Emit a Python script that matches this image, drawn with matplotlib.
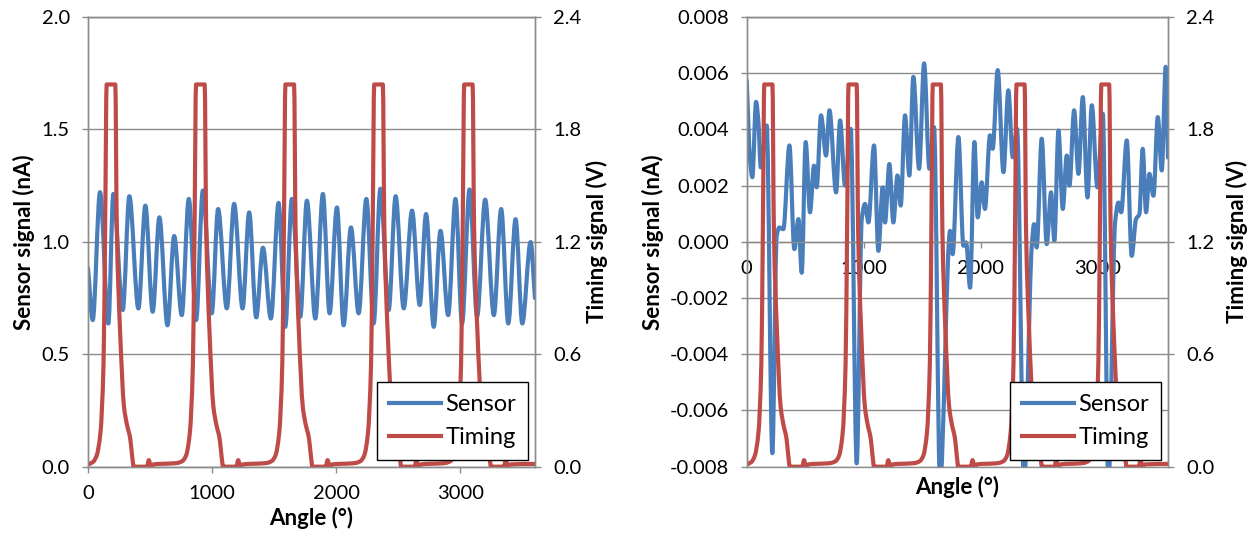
"""Sensor and timing signals vs rotation angle, two panels."""

import numpy as np
import matplotlib
matplotlib.use('Agg')
import matplotlib.pyplot as plt
from matplotlib.ticker import FormatStrFormatter
from matplotlib.path import Path
from matplotlib.patches import PathPatch
from matplotlib.lines import Line2D

plt.rcParams['font.family'] = ['Lato', 'DejaVu Sans']
plt.rcParams['axes.unicode_minus'] = False

BLUE = '#4a7ebb'
RED = '#be4b48'
GRID = '#8c8c8c'

# --- left panel sensor signal (nA) (peaks/troughs) ---
left_angle = [0, 38, 97, 164, 204, 280, 333, 406, 462, 521, 575, 640, 694, 755,
              812, 871, 925, 997, 1048, 1118, 1177, 1245, 1298, 1355, 1409, 1473,
              1535, 1589, 1642, 1710, 1763, 1831, 1892, 1946, 2005, 2059, 2118,
              2180, 2242, 2301, 2355, 2422, 2478, 2543, 2610, 2672, 2723, 2785,
              2839, 2901, 2960, 3013, 3073, 3134, 3199, 3269, 3328, 3385, 3444,
              3498, 3565, 3600]
left_sensor = [0.884, 0.652, 1.221, 0.637, 1.213, 0.697, 1.203, 0.704, 1.161, 0.689,
               1.109, 0.629, 1.026, 0.674, 1.191, 0.652, 1.228, 0.682, 1.146, 0.704,
               1.169, 0.704, 1.131, 0.664, 0.974, 0.659, 1.173, 0.622, 1.191, 0.667,
               1.183, 0.659, 1.213, 0.682, 1.153, 0.629, 1.064, 0.682, 1.191, 0.637,
               1.236, 0.697, 1.203, 0.704, 1.139, 0.719, 1.124, 0.622, 1.049, 0.674,
               1.191, 0.637, 1.233, 0.667, 1.188, 0.674, 1.146, 0.637, 1.101, 0.637,
               0.999, 0.75]

# --- right panel sensor signal (nA) ---
right_angle = [0, 28, 48, 80, 100, 120, 171, 219, 256, 279, 313, 365, 407, 442, 470,
               504, 541, 575, 598, 635, 678, 707, 764, 798, 840, 889, 940, 983, 1011,
               1040, 1088, 1125, 1162, 1182, 1219, 1253, 1288, 1316, 1353, 1390, 1424,
               1473, 1516, 1561, 1601, 1652, 1738, 1760, 1809, 1852, 1875, 1909, 1946,
               1974, 2008, 2036, 2079, 2102, 2145, 2194, 2236, 2273, 2310, 2370, 2436,
               2456, 2478, 2521, 2564, 2601, 2629, 2664, 2701, 2735, 2758, 2798, 2835,
               2872, 2912, 2949, 2997, 3043, 3091, 3148, 3177, 3200, 3248, 3290, 3327,
               3356, 3384, 3413, 3441, 3476, 3513, 3547, 3581, 3600]
right_sensor = [5.75, 2.95, 2.30, 4.98, 4.26, 2.65, 4.14, -7.52, 0.21, 0.51, 0.45, 3.43,
                -0.26, 0.81, -1.10, 3.55, 1.05, 2.71, 1.94, 4.50, 3.07, 4.68, 1.76, 4.32,
                2.00, 4.02, -7.88, 0.81, 1.35, 0.69, 3.43, -0.32, 1.94, 0.69, 2.77, 0.69,
                2.36, 1.29, 4.50, 2.36, 5.87, 2.60, 6.35, 2.60, 4.08, -8.6, 0.39, -0.44,
                3.73, -0.14, -0.02, -1.63, 3.55, 0.87, 2.12, 1.17, 3.79, 3.31, 6.11, 2.48,
                5.39, 3.01, 4.02, -8.6, -0.14, 0.63, -0.20, 3.67, -0.08, 1.76, 0.04, 3.96,
                1.17, 3.07, 2.00, 4.68, 2.42, 5.15, 1.58, 4.86, 1.94, 4.56, -8.6, 0.69,
                1.40, 1.05, 3.61, -0.50, 0.81, 0.99, 3.31, 1.05, 2.42, 1.64, 4.44, 2.54,
                6.23, 3.00]
right_sensor = [v * 1e-3 for v in right_sensor]

# --- timing signal (V), same in both panels ---
timing_angle = [0, 40, 70, 100, 125, 138, 150, 220, 232, 258, 290, 312, 340, 355, 368,
                475, 490, 505, 525, 690,
                720, 760, 790, 820, 845, 858, 870, 940, 952, 978, 1010, 1032, 1060,
                1075, 1088, 1195, 1210, 1225, 1245, 1410,
                1440, 1480, 1510, 1540, 1565, 1578, 1590, 1660, 1672, 1698, 1730, 1752,
                1780, 1795, 1808, 1915, 1930, 1945, 1965, 2130,
                2155, 2195, 2225, 2255, 2280, 2293, 2305, 2375, 2387, 2413, 2445, 2467,
                2495, 2510, 2523, 2630, 2645, 2660, 2680, 2850,
                2880, 2920, 2950, 2980, 3005, 3018, 3030, 3098, 3110, 3136, 3168, 3190,
                3218, 3233, 3246, 3350, 3365, 3380, 3400, 3600]
timing_volt = [0.012, 0.025, 0.06, 0.18, 0.55, 1.27, 2.04, 2.04, 1.27, 0.73, 0.32, 0.23,
               0.15, 0.06, 0.0, 0.0, 0.035, 0.0, 0.012, 0.018,
               0.02, 0.03, 0.06, 0.18, 0.55, 1.27, 2.04, 2.04, 1.27, 0.73, 0.32, 0.23,
               0.15, 0.06, 0.0, 0.0, 0.035, 0.0, 0.012, 0.018,
               0.02, 0.03, 0.06, 0.18, 0.55, 1.27, 2.04, 2.04, 1.27, 0.73, 0.32, 0.23,
               0.15, 0.06, 0.0, 0.0, 0.035, 0.0, 0.012, 0.018,
               0.02, 0.03, 0.06, 0.18, 0.55, 1.27, 2.04, 2.04, 1.27, 0.73, 0.32, 0.23,
               0.15, 0.06, 0.0, 0.0, 0.035, 0.0, 0.012, 0.018,
               0.02, 0.03, 0.06, 0.18, 0.55, 1.27, 2.04, 2.04, 1.27, 0.73, 0.32, 0.23,
               0.15, 0.06, 0.0, 0.0, 0.035, 0.0, 0.012, 0.015]

x_ticks = [0, 1000, 2000, 3000]
left_yticks = [0.0, 0.5, 1.0, 1.5, 2.0]
right_yticks = [-0.008, -0.006, -0.004, -0.002, 0.0, 0.002, 0.004, 0.006, 0.008]
timing_ticks = [0.0, 0.6, 1.2, 1.8, 2.4]

TICK_FS = 14.5
LABEL_FS = 16
LEGEND_FS = 17
LW = 3.0


def smooth_path(x, y):
    """Smoothed line through the points (like a spreadsheet 'smoothed line'),
    monotone cubic Bezier segments, so no overshoot past the points."""
    x = np.asarray(x, float)
    y = np.asarray(y, float)
    h = np.diff(x)
    d = np.diff(y) / h
    m = np.zeros_like(x)
    m[0], m[-1] = d[0], d[-1]
    for i in range(1, len(x) - 1):
        if d[i - 1] * d[i] > 0:
            w1 = 2 * h[i] + h[i - 1]
            w2 = h[i] + 2 * h[i - 1]
            m[i] = (w1 + w2) / (w1 / d[i - 1] + w2 / d[i])
    verts = [(x[0], y[0])]
    codes = [Path.MOVETO]
    for i in range(len(x) - 1):
        verts += [(x[i] + h[i] / 3, y[i] + m[i] * h[i] / 3),
                  (x[i + 1] - h[i] / 3, y[i + 1] - m[i + 1] * h[i] / 3),
                  (x[i + 1], y[i + 1])]
        codes += [Path.CURVE4] * 3
    return Path(verts, codes)


def style_axes(ax):
    for sp in ax.spines.values():
        sp.set_color(GRID)
        sp.set_linewidth(1.0)
    ax.tick_params(colors=GRID, labelcolor='black', labelsize=TICK_FS,
                   length=4, width=1.0, direction='out', pad=9)


def draw_panel(ax, angle, sensor, ylim, yticks, yfmt):
    ax.add_patch(PathPatch(smooth_path(angle, sensor), fill=False, edgecolor=BLUE,
                           linewidth=LW, joinstyle='round', capstyle='round'))
    ax.set_xlim(0, 3600)
    ax.set_ylim(*ylim)
    ax.set_xticks(x_ticks)
    ax.set_yticks(yticks)
    ax.yaxis.set_major_formatter(FormatStrFormatter(yfmt))
    ax.grid(True, axis='y', color=GRID, linewidth=1.0)
    ax.set_axisbelow(True)
    ax.set_ylabel('Sensor signal (nA)', fontsize=LABEL_FS, fontweight='bold',
                  va='center')
    style_axes(ax)

    tx = ax.twinx()
    tx.add_patch(PathPatch(smooth_path(timing_angle, timing_volt), fill=False,
                           edgecolor=RED, linewidth=LW, joinstyle='round',
                           capstyle='round'))
    tx.set_xlim(0, 3600)
    tx.set_ylim(0, 2.4)
    tx.set_yticks(timing_ticks)
    tx.yaxis.set_major_formatter(FormatStrFormatter('%.1f'))
    tx.set_ylabel('Timing signal (V)', fontsize=LABEL_FS, fontweight='bold',
                  va='center')
    style_axes(tx)

    handles = [Line2D([], [], color=BLUE, linewidth=LW, label='Sensor'),
               Line2D([], [], color=RED, linewidth=LW, label='Timing')]
    leg = tx.legend(handles=handles, loc='lower right', fontsize=LEGEND_FS,
                    fancybox=False, framealpha=1, edgecolor='black',
                    handlelength=2.2, handletextpad=0.2, borderaxespad=0.3,
                    borderpad=0.5, labelspacing=0.5)
    leg.get_frame().set_linewidth(1.0)
    return tx


fig = plt.figure(figsize=(12.59, 5.33), dpi=100)

ax1 = fig.add_axes([0.0699, 0.1244, 0.3550, 0.8437])
tx1 = draw_panel(ax1, left_angle, left_sensor, (0, 2.0), left_yticks, '%.1f')
ax1.set_xlabel('Angle (°)', fontsize=LABEL_FS, fontweight='bold', va='center')
ax1.xaxis.set_label_coords(0.5, -0.114)
ax1.yaxis.set_label_coords(-0.143, 0.5)
tx1.yaxis.set_label_coords(1.138, 0.5)

ax2 = fig.add_axes([0.5931, 0.1244, 0.3346, 0.8437])
tx2 = draw_panel(ax2, right_angle, right_sensor, (-0.008, 0.008), right_yticks, '%.3f')
# x axis crosses at zero, as in the original spreadsheet chart
ax2.spines['bottom'].set_position(('data', 0))
ax2.set_xlabel('Angle (°)', fontsize=LABEL_FS, fontweight='bold', va='center')
ax2.xaxis.set_label_coords(0.5, -0.046)
ax2.yaxis.set_label_coords(-0.222, 0.5)
tx2.yaxis.set_label_coords(1.164, 0.5)

fig.savefig('out.png', dpi=100)
